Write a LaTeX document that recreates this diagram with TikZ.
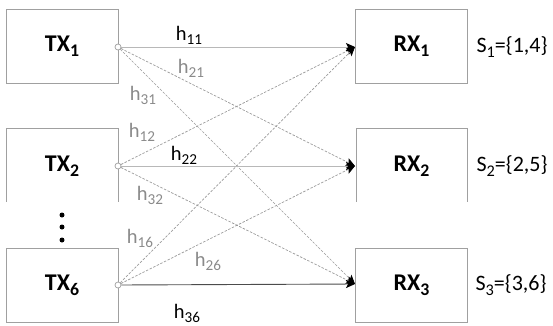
\documentclass[tikz,border=0pt]{standalone}
\usepackage{fontspec}
\setmainfont{Carlito}
\usetikzlibrary{arrows.meta}
\newcommand{\sbx}[1]{\raisebox{-0.2em}{\fontsize{0.74em}{0.8em}\selectfont #1}}
\definecolor{boxgray}{HTML}{A0A0A0}
\definecolor{linegray}{HTML}{9A9A9A}
\definecolor{labgray}{HTML}{8A8A8A}
\begin{document}
\begin{tikzpicture}[x=1pt,y=-1pt,
  box/.style={draw=boxgray,line width=0.9pt,minimum width=112pt,minimum height=74pt,inner sep=0pt},
  boxlab/.style={font=\fontsize{24}{27}\selectfont\bfseries},
  port/.style={circle,draw=boxgray,fill=white,line width=0.7pt,minimum size=6pt,inner sep=0pt},
  hlab/.style={font=\fontsize{20.5}{23}\selectfont,text=black},
  glab/.style={font=\fontsize{20.5}{23}\selectfont,text=labgray},
  slab/.style={font=\fontsize{22}{25}\selectfont},
  tipk/.style={-{Stealth[length=9pt,width=8pt,inset=2pt,black]}},
  solidl/.style={draw=linegray!70,line width=0.9pt,tipk},
  darkl/.style={draw=black!70,line width=0.9pt,tipk},
  dashl/.style={draw=linegray,line width=0.7pt,dash pattern=on 2.5pt off 1.5pt,tipk}]
\useasboundingbox (0,0) rectangle (553,325);
% transmitter boxes
\node[box,boxlab] (tx1) at (62,46.5) {TX\sbx{1}};
\draw[boxgray,line width=0.9pt] (6,202) -- (6,128) -- (118,128) -- (118,202);
\node[boxlab] (tx2) at (62,166) {TX\sbx{2}};
\node[box,boxlab] (tx6) at (62,285) {TX\sbx{6}};
\node[circle,fill=black,inner sep=0pt,minimum size=5pt] (d1) at (62,215) {};
\node[circle,fill=black,inner sep=0pt,minimum size=5pt] (d2) at (62,227) {};
\node[circle,fill=black,inner sep=0pt,minimum size=5pt] (d3) at (62,240) {};
% receiver boxes
\node[box,boxlab] (rx1) at (411.5,46.5) {RX\sbx{1}};
\draw[boxgray,line width=0.9pt] (356,202) -- (356,128) -- (467,128) -- (467,202);
\node[boxlab] (rx2) at (411.5,166) {RX\sbx{2}};
\node[box,boxlab] (rx3) at (411.5,285) {RX\sbx{3}};
\coordinate (r1) at (355,47);
\coordinate (r2) at (355,166);
\coordinate (r3) at (355,284);
% set labels
\node[slab] (s1) at (512,47) {S\sbx{1}=\{1,4\}};
\node[slab] (s2) at (512,166) {S\sbx{2}=\{2,5\}};
\node[slab] (s3) at (511,285) {S\sbx{3}=\{3,6\}};
% links
\node[port] (p1) at (118,47) {};
\node[port] (p2) at (118,166) {};
\node[port] (p6) at (118,285) {};
\draw[dashl] (p1) -- (r2);
\draw[dashl] (p1) -- (r3);
\draw[dashl] (p2) -- (r1);
\draw[dashl] (p2) -- (r3);
\draw[dashl] (p6) -- (r1);
\draw[dashl] (p6) -- (r2);
\draw[solidl] (p1) -- (r1);
\draw[solidl] (p2) -- (r2);
\draw[darkl] (p6) -- (r3);
% channel labels
\node[hlab] (h11) at (189,35) {h\sbx{11}};
\node[glab] (h21) at (191,68) {h\sbx{21}};
\node[glab] (h31) at (143,95) {h\sbx{31}};
\node[glab] (h12) at (142,132) {h\sbx{12}};
\node[hlab] (h22) at (184,155) {h\sbx{22}};
\node[glab] (h32) at (150,195) {h\sbx{32}};
\node[glab] (h16) at (140,238) {h\sbx{16}};
\node[glab] (h26) at (208,261) {h\sbx{26}};
\node[hlab] (h36) at (187,313) {h\sbx{36}};
\end{tikzpicture}
\end{document}
